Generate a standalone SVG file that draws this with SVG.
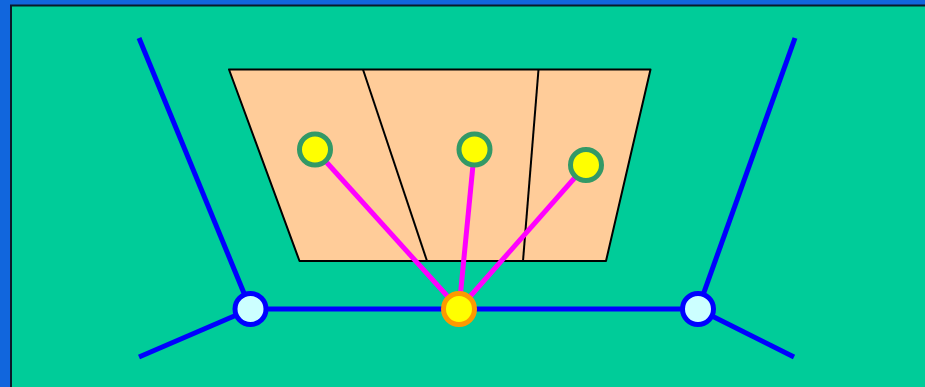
<svg xmlns="http://www.w3.org/2000/svg" width="925" height="387" viewBox="0 0 925 387">
  <style>
    .blue { stroke: #0000FF; stroke-width: 5; fill: none; }
    .mag { stroke: #FF00FF; stroke-width: 5; fill: none; }
    .div { stroke: #000000; stroke-width: 2; fill: none; }
    .hub { fill: #CCFFFF; stroke: #0000FF; stroke-width: 5; }
    .src { fill: #FFFF00; stroke: #FF9900; stroke-width: 5; }
    .dst { fill: #FFFF00; stroke: #339966; stroke-width: 5; }
  </style>
  <rect x="0" y="0" width="925" height="387" fill="#1166DD"/>
  <rect x="11" y="5.5" width="930" height="400" fill="#00CC99" stroke="#0A1A2A" stroke-width="2"/>
  <g id="region">
    <polygon points="229,69.5 650.5,69.5 606,261 299.5,261" fill="#FFCC99" stroke="#000000" stroke-width="2" stroke-linejoin="round"/>
    <line class="div" x1="363" y1="69.5" x2="427" y2="261"/>
    <line class="div" x1="538.5" y1="69.5" x2="523" y2="261"/>
  </g>
  <g id="connectors">
    <line class="blue" x1="139" y1="38" x2="250.5" y2="309"/>
    <line class="blue" x1="139" y1="357" x2="250.5" y2="309"/>
    <line class="blue" x1="250.5" y1="309" x2="698" y2="309"/>
    <line class="blue" x1="795" y1="38" x2="698" y2="309"/>
    <line class="blue" x1="794" y1="357" x2="698" y2="309"/>
    <line class="mag" x1="459" y1="309" x2="315" y2="149.5"/>
    <line class="mag" x1="459" y1="309" x2="474.5" y2="149.5"/>
    <line class="mag" x1="459" y1="309" x2="586" y2="165"/>
  </g>
  <g id="hub-left"><circle class="hub" cx="250.5" cy="309" r="15.5"/></g>
  <g id="hub-right"><circle class="hub" cx="698" cy="309" r="15.5"/></g>
  <g id="source"><circle class="src" cx="459" cy="309" r="15.5"/></g>
  <g id="dest-1"><circle class="dst" cx="315" cy="149.5" r="15.5"/></g>
  <g id="dest-2"><circle class="dst" cx="474.5" cy="149.5" r="15.5"/></g>
  <g id="dest-3"><circle class="dst" cx="586" cy="165" r="15.5"/></g>
</svg>
